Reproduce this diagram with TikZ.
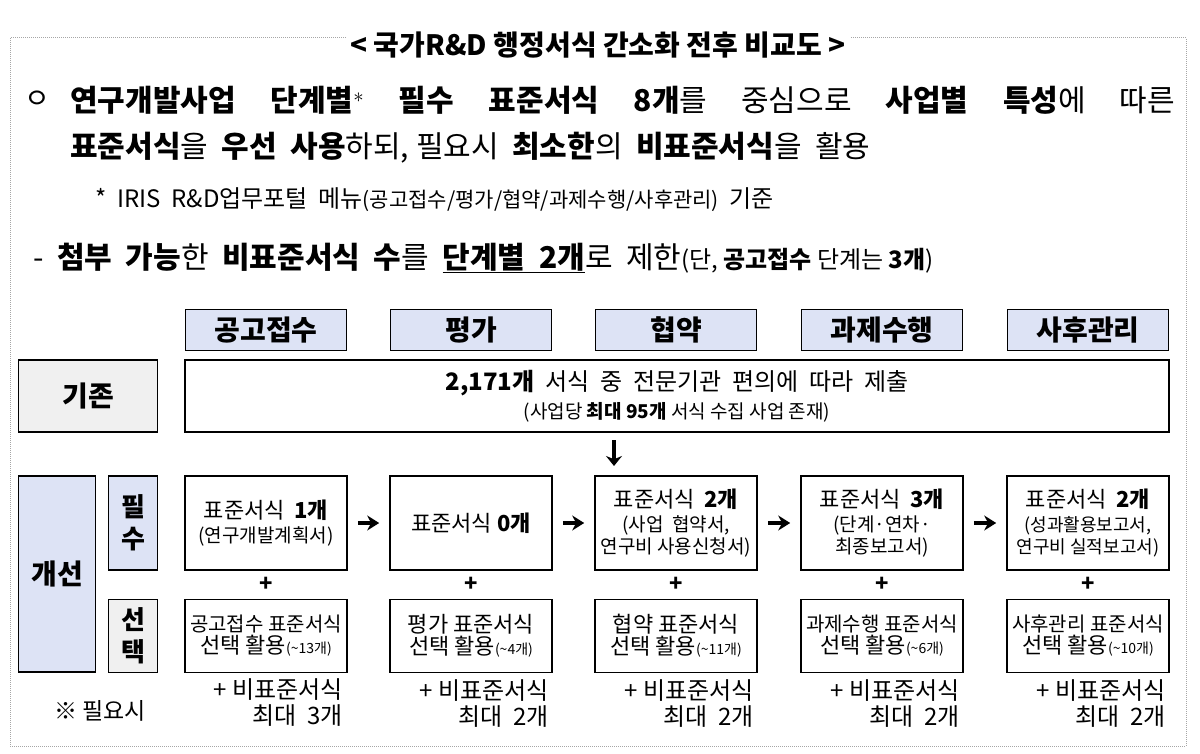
\documentclass[tikz,border=0pt]{standalone}
\usepackage{fontspec}
\setmainfont{Noto Sans CJK KR}
\usetikzlibrary{arrows.meta,calc}
\definecolor{hdrblue}{HTML}{DDE3F5}
\definecolor{lightgray}{HTML}{F0F0F0}
\newcommand{\fs}[1]{\fontsize{#1}{#1}\selectfont}
\tikzset{
    box/.style={draw,line width=1.6pt,inner sep=0pt,align=center},
    hdr/.style={box,fill=hdrblue,minimum width=161pt,minimum height=41pt,font=\fs{28}\bfseries},
    stage/.style={box,minimum width=162pt,minimum height=94pt,font=\fs{22}},
    sel/.style={box,minimum width=162pt,minimum height=73pt,font=\fs{22}},
    extra/.style={align=right,anchor=north east,font=\fs{24},inner sep=0pt},
    flow/.style={-{Stealth[length=12pt,width=15pt]},line width=4pt,shorten <=10pt,shorten >=10pt}
}
\begin{document}
\begin{tikzpicture}[x=1pt,y=-1pt]
    \useasboundingbox (0,0) rectangle (1200,754);
    % frame
    \draw[gray!70,densely dotted,line width=1pt] (10,38) rectangle (1186,746);
    \node[fill=white,inner sep=4pt,font=\fs{28}\bfseries] (title) at (598,45)
        {< 국가R\&D 행정서식 간소화 전후 비교도 >};
    % text lines
    \node[inner sep=0pt,font=\fs{28}] (bul) at (37,100) {ㅇ};
    \node[anchor=west,inner sep=0pt,font=\fs{30}] (line1) at (70,100)
        {\makebox[1105pt][s]{\bfseries 연구개발사업 단계별$^{*}$ 필수 표준서식 8개\mdseries 를 중심으로 \bfseries 사업별 특성\mdseries 에 따른}};
    \node[anchor=west,inner sep=0pt,font=\fs{30}] (line2) at (70,148)
        {\textbf{표준서식}을 \ \textbf{우선 \ 사용}하되, 필요시 \ \textbf{최소한}의 \ \textbf{비표준서식}을 \ 활용};
    \node[anchor=west,inner sep=0pt,font=\fs{24}] (line3) at (95,200)
        {* \ IRIS \ R\&D업무포털 \ 메뉴{\fs{21}(공고접수/평가/협약/과제수행/사후관리)} \ 기준};
    \node[anchor=west,inner sep=0pt,font=\fs{30}] (line4) at (33,258)
        {- \ \textbf{첨부 \ 가능}한 \ \textbf{비표준서식 \ 수}를 \ \underline{\textbf{단계별 \ 2개}}로 \ 제한{\fs{24}(단, \textbf{공고접수} 단계는 \textbf{3개})}};
    % headers
    \node[hdr] (h1) at (266,330) {공고접수};
    \node[hdr] (h2) at (471,330) {평가};
    \node[hdr] (h3) at (676,330) {협약};
    \node[hdr] (h4) at (882,330) {과제수행};
    \node[hdr] (h5) at (1088,330) {사후관리};
    % before
    \node[box,fill=lightgray,minimum width=139pt,minimum height=72pt,font=\fs{28}\bfseries] (before) at (88,396) {기존};
    \node[box,minimum width=984pt,minimum height=72pt,font=\fs{24}] (now) at (677,396)
        {\textbf{2,171개} \ 서식 \ 중 \ 전문기관 \ 편의에 \ 따라 \ 제출\\[4pt]{\fs{19}(사업당 \textbf{최대 95개} 서식 수집 사업 존재)}};
    \coordinate (down) at (614,466);
    \draw[-{Stealth[length=10pt,width=16pt]},line width=3.5pt] (614,440) -- (down);
    % after
    \node[box,fill=hdrblue,minimum width=77pt,minimum height=196pt,font=\fs{28}\bfseries] (after) at (57,574) {개선};
    \node[box,fill=hdrblue,minimum width=49pt,minimum height=94pt,font=\fs{26}\bfseries] (must) at (133,523) {필\\[6pt]수};
    \node[box,fill=lightgray,minimum width=49pt,minimum height=73pt,font=\fs{26}\bfseries] (opt) at (133,636) {선\\[6pt]택};
    % required forms
    \node[stage] (s1) at (266,523) {표준서식 \ \textbf{1개}\\[2pt]{\fs{19}(연구개발계획서)}};
    \node[stage] (s2) at (471,523) {표준서식 \textbf{0개}};
    \node[stage] (s3) at (676,523) {표준서식 \ \textbf{2개}\\[2pt]{\fs{19}(사업 \ 협약서,}\\{\fs{19}연구비 사용신청서)}};
    \node[stage] (s4) at (882,523) {표준서식 \ \textbf{3개}\\[2pt]{\fs{19}(단계·연차·}\\{\fs{19}최종보고서)}};
    \node[stage] (s5) at (1088,523) {표준서식 \ \textbf{2개}\\[2pt]{\fs{18}(성과활용보고서,}\\{\fs{18}연구비 실적보고서)}};
    \foreach \a/\b in {s1/s2,s2/s3,s3/s4,s4/s5}
        \draw[flow] (\a) -- (\b);
    % optional forms
    \node[sel] (o1) at (266,636) {{\fs{20}공고접수 표준서식}\\선택 활용{\fs{14}(\textasciitilde13개)}};
    \node[sel] (o2) at (471,636) {평가 표준서식\\선택 활용{\fs{14}(\textasciitilde4개)}};
    \node[sel] (o3) at (676,636) {협약 표준서식\\선택 활용{\fs{14}(\textasciitilde11개)}};
    \node[sel] (o4) at (882,636) {{\fs{20}과제수행 표준서식}\\선택 활용{\fs{14}(\textasciitilde6개)}};
    \node[sel] (o5) at (1088,636) {{\fs{20}사후관리 표준서식}\\선택 활용{\fs{14}(\textasciitilde10개)}};
    \foreach \i in {1,...,5}
        \node[font=\fs{22}\bfseries,inner sep=0pt] (p\i) at ($(s\i.south)!0.5!(o\i.north)$) {+};
    % non-standard
    \node[font=\fs{23},inner sep=0pt] (need) at (100,711) {※ 필요시};
    \node[extra] (e1) at (343,678) {+ 비표준서식\\[2pt]최대 \ 3개};
    \foreach \i in {2,...,5}
        \node[extra] (e\i) at ([xshift=-4pt,yshift=-6pt]o\i.south east) {+ 비표준서식\\[2pt]최대 \ 2개};
\end{tikzpicture}
\end{document}
